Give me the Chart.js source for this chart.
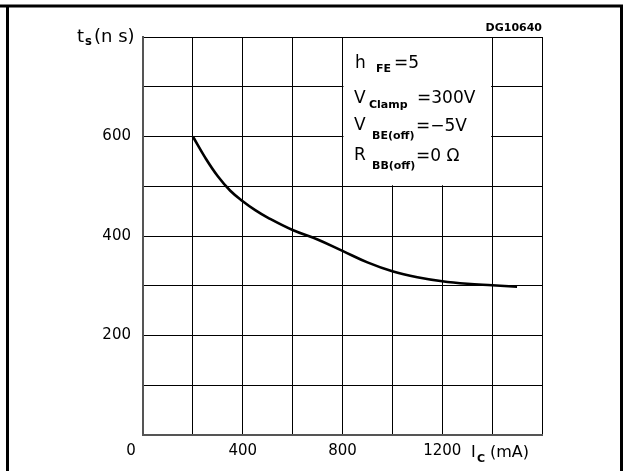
<!DOCTYPE html>
<html><head><meta charset="utf-8">
<script src="https://cdn.jsdelivr.net/npm/chart.js@4.4.1/dist/chart.umd.min.js"></script>
<style>html,body{margin:0;padding:0;background:#fff;}#wrap{width:623px;height:471px;position:relative;}</style>
</head><body><div id="wrap"><canvas id="c" width="623" height="471"></canvas></div>
<script>
// Data
const collectorCurrent = [200, 250, 300, 350, 400, 450, 500, 600, 700, 800, 900, 1000, 1100, 1200, 1300, 1400, 1500];
const storageTime     = [600, 557, 520, 491, 470, 452, 437, 412, 393, 370, 347, 329, 317, 309, 304, 301, 298];
const xTickValues = [400, 800, 1200];
const xTickLabels = ['400', '800', '1200'];
const yTickValues = [200, 400, 600];
const yTickLabels = ['200', '400', '600'];
const cornerLabel = '0';
const annotationLines = [
  {main: 'h', sub: 'FE', rest: '=5'},
  {main: 'V', sub: 'Clamp', rest: '=300V'},
  {main: 'V', sub: 'BE(off)', rest: '=\u22125V'},
  {main: 'R', sub: 'BB(off)', rest: '=0 \u03A9'}
];
const FONT = '"DejaVu Sans", "Liberation Sans", sans-serif';

const overlay = {
  id: 'overlay',
  beforeDatasetsDraw(chart) {
    const {ctx, scales: {x, y}} = chart;
    // white annotation box covering grid (800..1400 mA, 500..800 ns)
    const x0 = x.getPixelForValue(800), x1 = x.getPixelForValue(1400);
    const y0 = y.getPixelForValue(800), y1 = y.getPixelForValue(500);
    ctx.save();
    ctx.fillStyle = '#fff';
    ctx.fillRect(x0 + 1, y0 + 1, x1 - x0 - 2, y1 - y0 - 2);
    ctx.fillStyle = '#000';
    ctx.textBaseline = 'alphabetic';
    const bases = [68, 103, 130, 160];
    const subDrop = [4, 5, 9, 9];
    const mainX = [355, 354, 354, 354];
    const subX = [376, 369, 372, 372];
    const restX = [394, 417, 416, 416];
    annotationLines.forEach((l, i) => {
      ctx.font = '17px ' + FONT;
      ctx.fillText(l.main, mainX[i], bases[i]);
      ctx.font = 'bold 11px ' + FONT;
      ctx.fillText(l.sub, subX[i], bases[i] + subDrop[i]);
      ctx.font = '17px ' + FONT;
      ctx.fillText(l.rest, restX[i], bases[i] + (i >= 2 ? 1 : 0));
    });
    ctx.restore();
  },
  afterDraw(chart) {
    const {ctx, scales: {x, y}} = chart;
    ctx.save();
    ctx.fillStyle = '#000';
    ctx.font = '15px ' + FONT;
    ctx.textBaseline = 'middle';
    ctx.textAlign = 'right';
    yTickValues.forEach((v, i) => ctx.fillText(yTickLabels[i], 131, y.getPixelForValue(v)));
    ctx.textAlign = 'center';
    xTickValues.forEach((v, i) => ctx.fillText(xTickLabels[i], x.getPixelForValue(v), 451));
    ctx.fillText(cornerLabel, 131, 451);
    // x axis title I_C (mA)
    ctx.textAlign = 'left';
    ctx.textBaseline = 'alphabetic';
    ctx.font = '16px ' + FONT;
    ctx.fillText('I', 471, 457);
    ctx.font = 'bold 11px ' + FONT;
    ctx.fillText('C', 477, 462);
    ctx.font = '16px ' + FONT;
    ctx.fillText('(mA)', 490, 457);
    // y axis title t_s(ns)
    ctx.font = '18px ' + FONT;
    ctx.fillText('t', 77, 42);
    ctx.font = 'bold 11.5px ' + FONT;
    ctx.fillText('s', 85, 45);
    ctx.font = '18px ' + FONT;
    ctx.fillText('(n s)', 94, 42);
    // drawing code
    ctx.font = 'bold 11px ' + FONT;
    ctx.textAlign = 'right';
    ctx.fillText('DG10640', 542, 31);
    // outer frame
    ctx.strokeStyle = '#000';
    ctx.lineWidth = 3;
    ctx.beginPath();
    ctx.moveTo(0, 6); ctx.lineTo(621.5, 6); ctx.lineTo(621.5, 471);
    ctx.moveTo(7.5, 6); ctx.lineTo(7.5, 471);
    ctx.stroke();
    ctx.restore();
  }
};

new Chart(document.getElementById('c'), {
  type: 'line',
  data: {
    datasets: [{
      data: collectorCurrent.map((v, i) => ({x: v, y: storageTime[i]})),
      borderColor: '#000',
      borderWidth: 2.6,
      pointRadius: 0,
      tension: 0.4,
      fill: false
    }]
  },
  options: {
    responsive: false,
    animation: false,
    devicePixelRatio: 1,
    layout: {padding: {left: 143, top: 37, right: 81, bottom: 36}},
    plugins: {legend: {display: false}, tooltip: {enabled: false}},
    scales: {
      x: {
        type: 'linear', min: 0, max: 1600,
        ticks: {display: false, stepSize: 200},
        grid: {color: '#000', lineWidth: 1, drawTicks: false},
        border: {display: true, color: '#555', width: 2}
      },
      y: {
        type: 'linear', min: 0, max: 800,
        ticks: {display: false, stepSize: 100},
        grid: {color: '#000', lineWidth: 1, drawTicks: false},
        border: {display: true, color: '#555', width: 2}
      }
    }
  },
  plugins: [overlay]
});
</script>
</body></html>
